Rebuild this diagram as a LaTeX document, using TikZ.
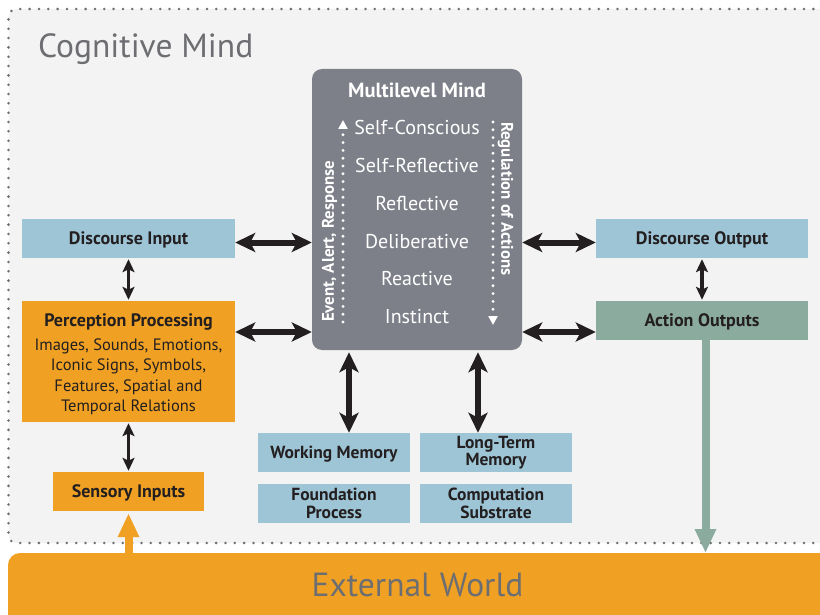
\documentclass[tikz,border=0pt]{standalone}
\usepackage{fontspec}
\setmainfont{PT Sans}
\usetikzlibrary{arrows.meta}

\definecolor{panelfill}{HTML}{F3F3F3}
\definecolor{dotgray}{HTML}{6D6E71}
\definecolor{titlegray}{HTML}{6D6E71}
\definecolor{worldorange}{HTML}{F0A123}
\definecolor{boxblue}{HTML}{9EC5D6}
\definecolor{boxgreen}{HTML}{8BAB9F}
\definecolor{mindgray}{HTML}{7E8089}
\definecolor{ink}{HTML}{231F20}

\tikzset{
  box/.style={rectangle, inner sep=0pt, text=ink, align=center,
    font=\bfseries\fontsize{18}{18}\selectfont},
  oneline/.style={text height=12.6pt, text depth=0pt},
  bluebox/.style={box, fill=boxblue},
  orangebox/.style={box, fill=worldorange},
  greenbox/.style={box, fill=boxgreen},
  memorybox/.style={bluebox, minimum width=152pt, minimum height=39pt,
    font=\bfseries\fontsize{17.5}{17}\selectfont},
  bigarrow/.style={draw=ink, line width=6pt,
    {Stealth[length=20pt,width=19pt,inset=5pt]}-{Stealth[length=20pt,width=19pt,inset=5pt]}},
  smallarrow/.style={draw=ink, line width=3.5pt,
    {Stealth[length=13pt,width=12pt,inset=3pt]}-{Stealth[length=13pt,width=12pt,inset=3pt]}},
  flowarrow/.style={line width=8pt, -{Triangle[length=24pt,width=20pt]}},
  level/.style={text=white, anchor=base, font=\fontsize{20}{20}\selectfont},
  sidelabel/.style={text=white, inner sep=0pt, font=\bfseries\fontsize{16.8}{17}\selectfont},
  bigtitle/.style={text=titlegray, inner sep=0pt, font=\fontsize{33.5}{34}\selectfont},
  dotline/.style={draw=white, line width=3.2pt, line cap=round,
    dash pattern=on 0pt off 7.8pt, -{Triangle[length=9pt,width=9pt]}},
  paneldots/.style={draw=dotgray, line width=2.8pt, line cap=round,
    dash pattern=on 0pt off 9.33pt},
}

\begin{document}
\begin{tikzpicture}[x=1pt,y=-1pt]
\useasboundingbox (0,0) rectangle (820,615);
\clip (0,0) rectangle (820,615);

% Cognitive mind panel with its dotted outline
\fill[panelfill, rounded corners=8pt] (8.5,543) -- (8.5,9) -- (860,9) -- (860,543) -- cycle;
\draw[paneldots, rounded corners=8pt] (860,9) -- (8.5,9) -- (8.5,543) -- (860,543);
\node[bigtitle, anchor=base west] (cogtitle) at (38,58) {Cognitive Mind};

% External world band
\fill[worldorange, rounded corners=12pt] (8,660) -- (8,553) -- (860,553) -- (860,660) -- cycle;
\coordinate (worldtop) at (0,553);
\node[bigtitle] (world) at (417.5,585) {External World};

% Multilevel mind
\node[fill=mindgray, rounded corners=10pt, minimum width=210pt, minimum height=281pt,
  inner sep=0pt] (mind) at (417,209.5) {};
\node[anchor=base, text=white, font=\bfseries\fontsize{20.5}{20}\selectfont]
  (mindtitle) at (417,98) {Multilevel Mind};
\node[level] (l1) at (417,135) {Self-Conscious};
\node[level] (l2) at (417,173) {Self-Reflective};
\node[level] (l3) at (417,210.5) {Reflective};
\node[level] (l4) at (417,248) {Deliberative};
\node[level] (l5) at (417,285.5) {Reactive};
\node[level] (l6) at (417,323) {Instinct};

\coordinate (upbot) at (343,322);
\coordinate (uptop) at (343,120);
\draw[dotline] (upbot) -- (uptop);
\node[sidelabel, rotate=90, anchor=west] (eventlabel) at (329.5,322) {Event, Alert, Response};

\coordinate (downtop) at (493,122);
\coordinate (downbot) at (493,325);
\draw[dotline] (downtop) -- (downbot);
\node[sidelabel, rotate=-90, anchor=west] (reglabel) at (505.5,122) {Regulation of Actions};

% Input side
\node[bluebox, oneline, minimum width=213pt, minimum height=39pt] (din) at (128.5,238.5) {Discourse Input};
\node[orangebox, minimum width=213pt, minimum height=121pt] (perc) at (128.5,361.5) {};
\node[anchor=base, text=ink, font=\bfseries\fontsize{18}{18}\selectfont]
  (perctitle) at (128.5,326) {Perception Processing};
\node[anchor=base, text=ink, inner sep=0pt, align=center,
  font=\fontsize{16.5}{20.5}\selectfont] (perctext) at (128.5,411.5)
  {Images, Sounds, Emotions,\\Iconic Signs, Symbols,\\Features, Spatial and\\Temporal Relations};
\node[orangebox, oneline, minimum width=151pt, minimum height=39pt] (sens) at (128.5,491.5) {Sensory Inputs};

% Output side
\node[bluebox, oneline, minimum width=212pt, minimum height=39pt] (dout) at (702,238.5) {Discourse Output};
\node[greenbox, oneline, minimum width=212pt, minimum height=39pt] (act) at (702,320.5) {Action Outputs};

% Memory and substrate
\node[memorybox, oneline] (wm) at (334,452.5) {Working Memory};
\node[memorybox] (ltm) at (496,452.5) {Long-Term\\[-0.5pt]Memory};
\node[memorybox] (fp) at (334,503.5) {Foundation\\[0.5pt]Process};
\node[memorybox] (cs) at (496,503.5) {Computation\\[0.5pt]Substrate};

% Connectors
\coordinate (uprow) at (0,242.5);
\coordinate (lowrow) at (0,332);
\coordinate (colwm) at (349,0);
\coordinate (colltm) at (478,0);
\coordinate (colgreen) at (705.5,0);

\draw[bigarrow] (din.east |- uprow) -- (mind.west |- uprow);
\draw[bigarrow] (perc.east |- lowrow) -- (mind.west |- lowrow);
\draw[bigarrow] (mind.east |- uprow) -- (dout.west |- uprow);
\draw[bigarrow] (mind.east |- lowrow) -- (act.west |- lowrow);
\draw[bigarrow] ([yshift=-2pt]mind.south -| colwm) -- (wm.north -| colwm);
\draw[bigarrow] ([yshift=-2pt]mind.south -| colltm) -- (ltm.north -| colltm);

\draw[smallarrow] ([yshift=-1pt]din.south) -- ([yshift=1pt]perc.north);
\draw[smallarrow] ([yshift=-1pt]perc.south) -- ([yshift=1pt]sens.north);
\draw[smallarrow] ([yshift=-1pt]dout.south) -- ([yshift=1pt]act.north);

\draw[flowarrow, draw=boxgreen, fill=boxgreen] (act.south -| colgreen) -- (worldtop -| colgreen);
\draw[flowarrow, draw=worldorange, fill=worldorange] (worldtop -| sens.south) -- ([yshift=-2pt]sens.south);
\end{tikzpicture}
\end{document}
